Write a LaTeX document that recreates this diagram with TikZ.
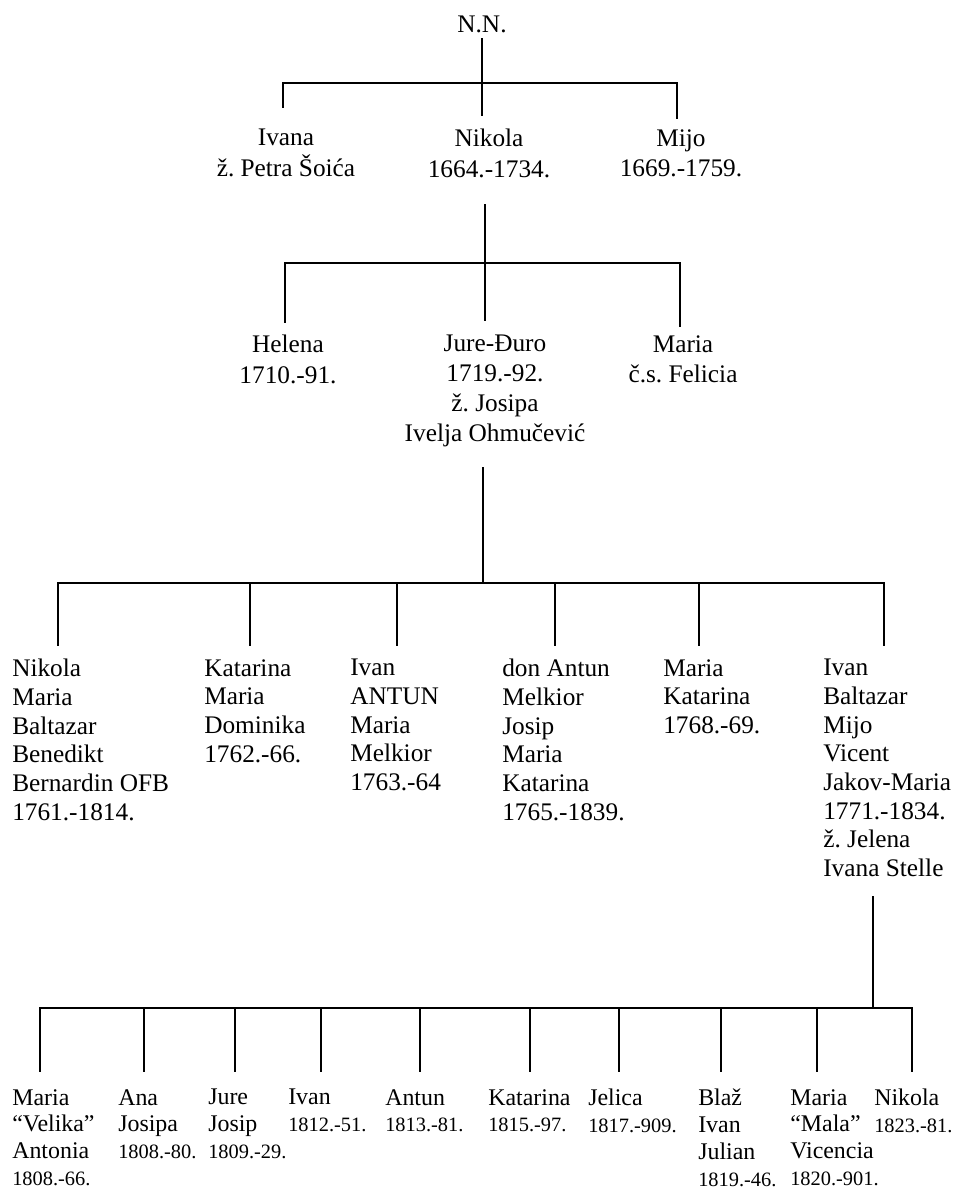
\documentclass[tikz,border=0pt]{standalone}
\usepackage{fontspec}
\setmainfont{Liberation Serif}
\tikzset{tree/.style={line width=1pt, line cap=rect}}
\tikzset{person/.style={inner sep=0pt, align=center, anchor=north, font=\fontsize{18}{22}\selectfont,
    execute at begin node={\rule{0pt}{13pt}}}}
\tikzset{kid/.style={inner sep=0pt, align=left, anchor=north west, font=\fontsize{18}{20.4}\selectfont,
    execute at begin node={\rule{0pt}{13pt}}}}
\tikzset{grandkid/.style={inner sep=0pt, align=left, anchor=north west, font=\fontsize{17}{19}\selectfont,
    execute at begin node={\rule{0pt}{12.3pt}}}}
\newcommand{\yr}[1]{{\fontsize{14.5}{19}\selectfont #1}}

\begin{document}
\frenchspacing
\begin{tikzpicture}[x=0.025cm, y=-0.025cm]
    \useasboundingbox (0,0) rectangle (957,1193);

    % N.N.
    \node[person] (nn) at (482,14) {N.N.};
    \node[person] (ivana) at (286,129) {Ivana\\ž. Petra Šoića};
    \node[person] (nikola) at (489,129) {Nikola\\1664.-1734.};
    \node[person] (mijo) at (681,129) {Mijo\\1669.-1759.};

    \coordinate (nn-out) at (482,39);
    \coordinate (bar1) at (482,83);
    \coordinate (ivana-in) at (283,107);
    \coordinate (nikola-in) at (482,115);
    \coordinate (mijo-in) at (677,118);
    \draw[tree] (nn-out) -- (bar1) -- (nikola-in);
    \draw[tree] (ivana-in) |- (mijo-in |- bar1) -- (mijo-in);

    % Nikola
    \node[person] (helena) at (288,335) {Helena\\1710.-91.};
    \node[person, font=\fontsize{18}{21.3}\selectfont] (jure) at (495,335)
        {Jure-Đuro\\1719.-92.\\ž. Josipa\\Ivelja Ohmučević};
    \node[person, font=\fontsize{18}{21.3}\selectfont] (mariaf) at (683,335) {Maria\\č.s. Felicia};

    \coordinate (nikola-out) at (485,205);
    \coordinate (bar2) at (485,263);
    \coordinate (helena-in) at (285,322);
    \coordinate (jure-in) at (485,320);
    \coordinate (mariaf-in) at (680,326);
    \draw[tree] (nikola-out) -- (bar2) -- (jure-in);
    \draw[tree] (helena-in) |- (mariaf-in |- bar2) -- (mariaf-in);

    % Jure-Duro
    \node[kid] (k1) at (12,659) {Nikola\\Maria\\Baltazar\\Benedikt\\Bernardin OFB\\1761.-1814.};
    \node[kid] (k2) at (204,659) {Katarina\\Maria\\Dominika\\1762.-66.};
    \node[kid] (k3) at (350,659) {Ivan\\ANTUN\\Maria\\Melkior\\1763.-64};
    \node[kid] (k4) at (502,659) {don Antun\\Melkior\\Josip\\Maria\\Katarina\\1765.-1839.};
    \node[kid] (k5) at (663,659) {Maria\\Katarina\\1768.-69.};
    \node[kid] (k6) at (823,659) {Ivan\\Baltazar\\Mijo\\Vicent\\Jakov-Maria\\1771.-1834.\\ž. Jelena\\Ivana Stelle};

    \coordinate (jure-out) at (483,468);
    \coordinate (bar3) at (483,583);
    \draw[tree] (jure-out) -- (bar3);
    \foreach \x [count=\i] in {58,250,397,555,699,884}
        \coordinate (k\i-in) at (\x,645);
    \draw[tree] (k1-in) |- (k6-in |- bar3) -- (k6-in);
    \foreach \i in {2,...,5}
        \draw[tree] (k\i-in |- bar3) -- (k\i-in);

    % Ivan
    \node[grandkid] (g1) at (12,1089) {Maria\\“Velika”\\Antonia\\\yr{1808.-66.}};
    \node[grandkid] (g2) at (118,1089) {Ana\\Josipa\\\yr{1808.-80.}};
    \node[grandkid] (g3) at (208,1089) {Jure\\Josip\\\yr{1809.-29.}};
    \node[grandkid] (g4) at (288,1089) {Ivan\\\yr{1812.-51.}};
    \node[grandkid] (g5) at (385,1089) {Antun\\\yr{1813.-81.}};
    \node[grandkid] (g6) at (488,1089) {Katarina\\\yr{1815.-97.}};
    \node[grandkid] (g7) at (588,1089) {Jelica\\\yr{1817.-909.}};
    \node[grandkid] (g8) at (698,1089) {Blaž\\Ivan\\Julian\\\yr{1819.-46.}};
    \node[grandkid] (g9) at (790,1089) {Maria\\“Mala”\\Vicencia\\\yr{1820.-901.}};
    \node[grandkid] (g10) at (874,1089) {Nikola\\\yr{1823.-81.}};

    \coordinate (k6-out) at (873,897);
    \coordinate (bar4) at (873,1008);
    \draw[tree] (k6-out) -- (bar4);
    \foreach \x [count=\i] in {40,144,235,321,420,530,619,721,817,912}
        \coordinate (g\i-in) at (\x,1071);
    \draw[tree] (g1-in) |- (g10-in |- bar4) -- (g10-in);
    \foreach \i in {2,...,9}
        \draw[tree] (g\i-in |- bar4) -- (g\i-in);

\end{tikzpicture}
\end{document}
